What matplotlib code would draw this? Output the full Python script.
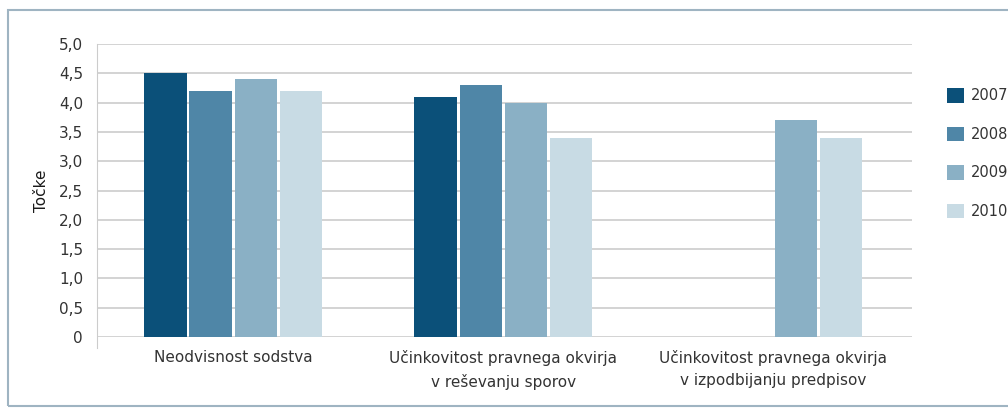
import numpy as np
import matplotlib.pyplot as plt
from matplotlib.patches import Rectangle

plt.rcParams['font.family'] = ['Liberation Sans Narrow', 'DejaVu Sans']

categories = ["Neodvisnost sodstva",
              "Učinkovitost pravnega okvirja\nv reševanju sporov",
              "Učinkovitost pravnega okvirja\nv izpodbijanju predpisov"]
years = ["2007", "2008", "2009", "2010"]
v2007 = [4.5, 4.1, np.nan]
v2008 = [4.2, 4.3, np.nan]
v2009 = [4.4, 4.0, 3.7]
v2010 = [4.2, 3.4, 3.4]
series = [v2007, v2008, v2009, v2010]
colors = ["#0b5079", "#4f86a7", "#8ab0c5", "#c8dbe4"]
yticks = [0, 0.5, 1.0, 1.5, 2.0, 2.5, 3.0, 3.5, 4.0, 4.5, 5.0]
ytick_labels = ["0", "0,5", "1,0", "1,5", "2,0", "2,5", "3,0", "3,5", "4,0", "4,5", "5,0"]

fig = plt.figure(figsize=(10.08, 4.08), dpi=100)
ax = fig.add_axes([0.0962, 0.174, 0.809, 0.718])

# outer frame
fig.patches.append(Rectangle((8 / 1008, 2 / 408), 1.1, 396 / 408, transform=fig.transFigure,
                             fill=False, edgecolor="#9fb4c2", linewidth=1.5))

x = np.arange(len(categories))
step = 0.167
width = 0.156
for i, (vals, c, yr) in enumerate(zip(series, colors, years)):
    ax.bar(x + (i - 1.5) * step, vals, width=width, color=c, label=yr, zorder=3)

ax.set_xlim(-0.504, 2.515)
ax.set_ylim(0, 5)
ax.set_yticks(yticks)
ax.set_yticklabels(ytick_labels, fontsize=11, color="#333333")
ax.set_xticks(x)
ax.set_xticklabels(categories, fontsize=11, color="#333333", linespacing=1.65)
ax.tick_params(axis="both", length=0, pad=10)
ax.tick_params(axis="x", pad=9)
ax.grid(axis="y", color="#cccccc", linewidth=1.2, zorder=0)
for s in ["top", "right", "bottom"]:
    ax.spines[s].set_visible(False)
ax.spines["left"].set_color("#cccccc")
ax.spines["left"].set_bounds(-0.18, 5)
ax.set_ylabel("Točke", fontsize=11, color="#1a1a1a", labelpad=7)

fig.legend(loc="upper left", bbox_to_anchor=(934 / 1008, 1 - 75 / 408), frameon=False,
           fontsize=10.5, handlelength=1.15, handleheight=1.15, labelspacing=1.6,
           handletextpad=0.5, labelcolor="#333333")

fig.savefig("out.png", dpi=100)
